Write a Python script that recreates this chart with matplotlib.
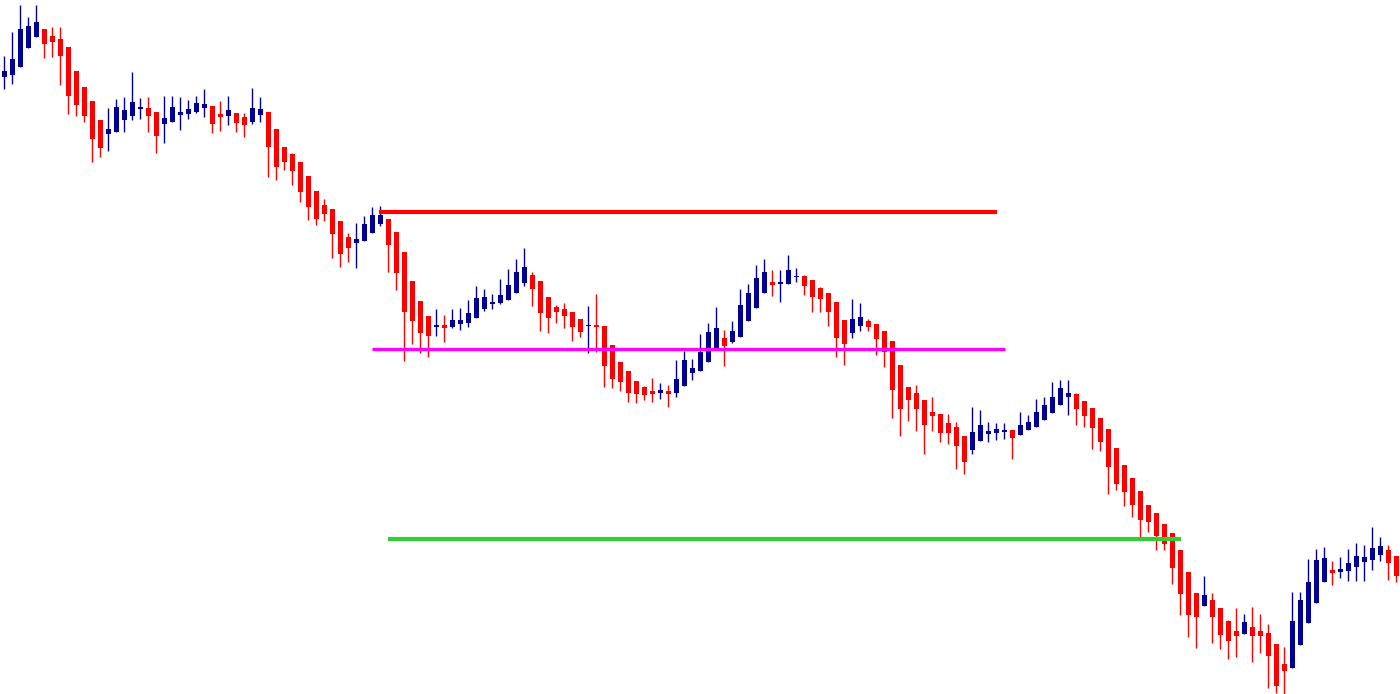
import matplotlib
matplotlib.use("Agg")
import matplotlib.pyplot as plt
import numpy as np

opens = [623, 625, 633, 652, 663, 671, 664, 661, 653, 629, 613, 599, 580, 566, 568, 580, 584, 591, 592, 588,
         576, 578, 585, 586, 588, 592, 594, 586, 584, 587, 583, 578, 585, 588, 571, 553, 546, 538, 524, 509,
         495, 491, 479, 463, 457, 459, 467, 476, 481, 468, 448, 419, 399, 384, 373, 375, 373, 376, 377, 382,
         391, 396, 397, 400, 407, 417, 425, 419, 403, 393, 391, 388, 381, 374, 375, 374, 355, 338, 329, 319,
         313, 309, 307, 309, 307, 314, 327, 329, 338, 352, 362, 358, 363, 379, 392, 407, 418, 416, 416, 423,
         424, 420, 412, 407, 398, 380, 367, 374, 379, 376, 369, 359, 335, 313, 307, 300, 288, 286, 277, 273,
         264, 250, 259, 266, 267, 268, 270, 265, 270, 273, 280, 287, 295, 303, 306, 299, 292, 282, 271, 252,
         235, 222, 209, 195, 187, 176, 167, 150, 128, 107, 94, 100, 92, 79, 69, 66, 73, 69, 67, 56,
         36, 32, 55, 77, 97, 118, 130, 128, 129, 133, 138, 140, 145, 150, 144]
highs = [644, 668, 695, 683, 695, 671, 673, 673, 653, 629, 613, 599, 580, 592, 601, 603, 628, 602, 603, 588,
         604, 604, 603, 600, 604, 611, 594, 599, 604, 587, 587, 612, 603, 588, 571, 553, 547, 538, 524, 509,
         501, 491, 479, 467, 477, 484, 493, 494, 481, 468, 448, 419, 399, 384, 391, 385, 391, 392, 400, 414,
         411, 406, 421, 431, 441, 452, 428, 419, 403, 395, 397, 388, 381, 394, 406, 374, 355, 338, 329, 319,
         314, 322, 317, 315, 340, 349, 341, 366, 377, 393, 370, 379, 411, 416, 435, 441, 430, 430, 445, 432,
         425, 420, 413, 407, 398, 380, 401, 397, 381, 376, 369, 359, 335, 313, 315, 300, 303, 286, 286, 278,
         264, 293, 290, 278, 277, 277, 270, 288, 285, 301, 303, 318, 320, 320, 307, 299, 292, 282, 271, 252,
         235, 222, 209, 195, 187, 176, 167, 150, 128, 107, 124, 107, 92, 80, 92, 86, 93, 86, 76, 56,
         53, 108, 108, 141, 151, 153, 139, 143, 151, 157, 155, 173, 163, 155, 144]
lows = [611, 616, 633, 652, 663, 642, 643, 615, 586, 584, 578, 538, 543, 549, 568, 568, 580, 581, 568, 547,
        557, 578, 570, 581, 587, 583, 567, 569, 575, 568, 563, 576, 578, 523, 520, 530, 515, 498, 480, 475,
        479, 442, 433, 438, 432, 459, 467, 474, 428, 410, 339, 356, 347, 343, 364, 358, 372, 370, 373, 382,
        389, 391, 396, 400, 407, 414, 394, 369, 367, 377, 372, 359, 363, 347, 348, 313, 312, 309, 298, 297,
        300, 298, 301, 293, 303, 314, 320, 329, 338, 350, 334, 357, 363, 379, 392, 407, 404, 398, 416, 418,
        405, 388, 388, 374, 343, 335, 362, 369, 369, 345, 333, 282, 264, 279, 269, 246, 269, 258, 256, 231,
        226, 246, 259, 258, 260, 261, 241, 265, 270, 273, 280, 287, 295, 285, 275, 273, 251, 249, 206, 210,
        194, 183, 162, 168, 150, 150, 116, 85, 63, 52, 94, 57, 51, 41, 43, 66, 38, 47, 12, 7,
        6, 32, 55, 77, 97, 118, 115, 122, 119, 119, 119, 130, 139, 120, 118]
closes = [629, 641, 671, 674, 678, 656, 658, 644, 604, 595, 584, 561, 552, 571, 593, 590, 598, 593, 584, 564,
          582, 593, 588, 591, 597, 596, 576, 583, 590, 577, 575, 592, 591, 553, 533, 538, 529, 508, 493, 481,
          486, 466, 446, 452, 461, 476, 485, 485, 455, 427, 388, 379, 367, 364, 375, 372, 380, 380, 387, 402,
          403, 398, 405, 415, 428, 433, 411, 387, 382, 388, 384, 373, 368, 375, 373, 334, 321, 318, 307, 306,
          305, 306, 310, 306, 321, 340, 332, 348, 368, 372, 354, 369, 395, 407, 422, 428, 415, 418, 430, 424,
          414, 403, 401, 388, 362, 356, 381, 383, 373, 361, 348, 310, 291, 300, 291, 275, 284, 267, 267, 254,
          238, 268, 275, 269, 271, 270, 262, 275, 278, 288, 295, 303, 312, 307, 291, 284, 272, 258, 233, 216,
          208, 195, 180, 178, 164, 156, 132, 106, 85, 83, 105, 83, 65, 59, 64, 78, 64, 64, 44, 14,
          29, 79, 100, 118, 140, 142, 127, 131, 137, 144, 143, 152, 154, 137, 124]

resistance_level = 488
resistance_span = (46.8, 124.1)
neckline_level = 351
neckline_span = (46.0, 125.1)
target_level = 161
target_span = (48.0, 147.1)

o = np.array(opens, float)
h = np.array(highs, float)
l = np.array(lows, float)
c = np.array(closes, float)
x = np.arange(len(o))

UP = "#000096"
DOWN = "#FF0000"
colors = [UP if cc > oo else DOWN for oo, cc in zip(o, c)]

fig = plt.figure(figsize=(14, 6.94), dpi=100)
ax = fig.add_axes([0, 0, 1, 1])
ax.set_facecolor("white")

ax.vlines(x, l, h, colors=colors, linewidth=1.0, zorder=2)
bottoms = np.minimum(o, c)
heights = np.maximum(np.abs(c - o), 1.5)
ax.bar(x, heights, bottom=bottoms, width=0.63, color=colors, linewidth=0, zorder=3)

ax.hlines(resistance_level, *resistance_span, colors="#FF0000", linewidth=3.0, zorder=4, capstyle="butt")
ax.hlines(neckline_level, *neckline_span, colors="#FF00FF", linewidth=2.4, zorder=4, capstyle="butt")
ax.hlines(target_level, *target_span, colors="#33CC33", linewidth=3.0, zorder=4, capstyle="butt")

ax.set_xlim(-4.3 / 8, (1400 - 4.3) / 8)
ax.set_ylim(6, 700)
ax.axis("off")

fig.savefig("out.png", dpi=100, facecolor="white")
